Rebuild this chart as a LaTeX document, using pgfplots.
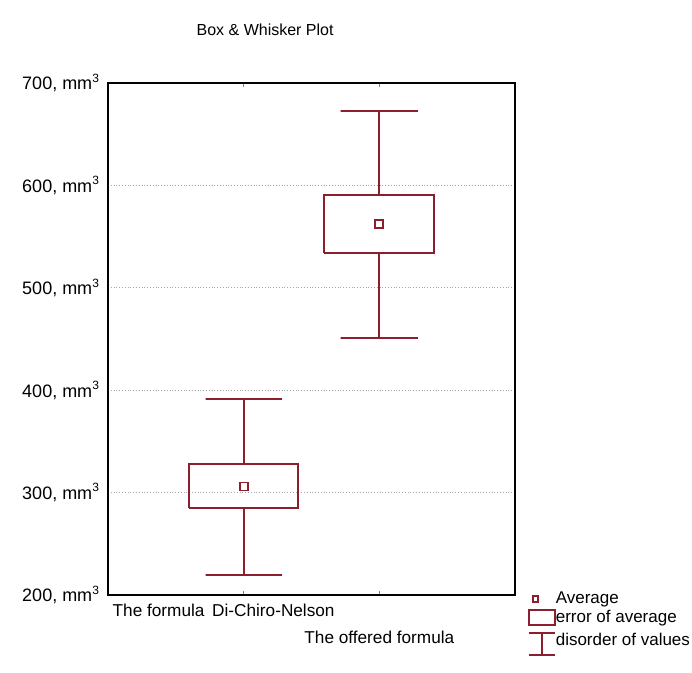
\documentclass[border=0pt]{standalone}
\usepackage{fontspec}
\setmainfont{Liberation Sans}
\usepackage{pgfplots}
\pgfplotsset{compat=1.18}
\definecolor{boxc}{RGB}{140,30,45}
\begin{document}
\begin{tikzpicture}
\useasboundingbox (-54pt,-39pt) rectangle (292pt,297.5pt);
\begin{axis}[
  at={(0,0)}, anchor=south west, scale only axis,
  width=203.5pt, height=256pt,
  clip=false,
  xmin=0, xmax=3, ymin=200, ymax=700,
  ytick={200,300,...,700},
  /pgf/number format/assume math mode=true,
  yticklabel={\pgfmathprintnumber{\tick}, mm\textsuperscript{3}},
  yticklabel style={font=\fontsize{9}{10}\selectfont, xshift=-0.5pt},
  ytick style={draw=none},
  xtick={1,2},
  xticklabels={{The formula\hspace{0.45em}Di-Chiro-Nelson\hspace*{20pt}},{\strut\\[-3pt]The offered formula}},
  xticklabel style={font=\fontsize{8.6}{13.5}\selectfont, align=center, yshift=-1pt},
  xtick align=inside,
  major tick length=2pt,
  axis line style={line width=0.9pt},
  ymajorgrids,
  major grid style={densely dotted, gray!70, line width=0.5pt},
  legend style={at={(rel axis cs:1.03,0.015)}, anchor=north west, draw=none, fill=none,
    font=\fontsize{8.5}{9.5}\selectfont, inner sep=0pt, row sep=-2.3pt,
    /tikz/every odd column/.append style={column sep=-1.9pt}},
  legend cell align=left,
]
% left: The formula Di-Chiro-Nelson
\addplot[boxc, line width=1pt, forget plot] coordinates {(0.6,285) (1.4,285) (1.4,328) (0.6,328) (0.6,285)};
\addplot[boxc, line width=1pt, forget plot] coordinates {(1,328) (1,391.4) (0.72,391.4) (1.28,391.4)};
\addplot[boxc, line width=1pt, forget plot] coordinates {(1,285) (1,219.5) (0.72,219.5) (1.28,219.5)};
% right: The offered formula
\addplot[boxc, line width=1pt, forget plot] coordinates {(1.595,534) (2.405,534) (2.405,590.6) (1.595,590.6) (1.595,534)};
\addplot[boxc, line width=1pt, forget plot] coordinates {(2,590.6) (2,672.7) (1.715,672.7) (2.285,672.7)};
\addplot[boxc, line width=1pt, forget plot] coordinates {(2,534) (2,451) (1.715,451) (2.285,451)};
% averages
\addplot[boxc, only marks, mark=square, mark size=2pt, line width=0.9pt, forget plot]
  coordinates {(1,306) (2,562)};
\addlegendimage{legend image code/.code={\draw[boxc, line width=0.9pt] (2pt,-1.6pt) rectangle (4.8pt,1.6pt);}}
\addlegendentry{Average}
\addlegendimage{legend image code/.code={\draw[boxc, line width=1pt] (0pt,-3.6pt) rectangle (13pt,3.8pt);}}
\addlegendentry{error of average}
\addlegendimage{legend image code/.code={\path (0pt,8pt) -- (0pt,8pt); \draw[boxc, line width=1pt] (0pt,-6.9pt) -- (13pt,-6.9pt) (6.5pt,-6.9pt) -- (6.5pt,4.2pt) (0pt,4.2pt) -- (13pt,4.2pt);}}
\addlegendentry{disorder of values}
\node[font=\fontsize{8}{9}\selectfont] at (rel axis cs:0.386,1.104) {Box \& Whisker Plot};
\end{axis}
\end{tikzpicture}
\end{document}
